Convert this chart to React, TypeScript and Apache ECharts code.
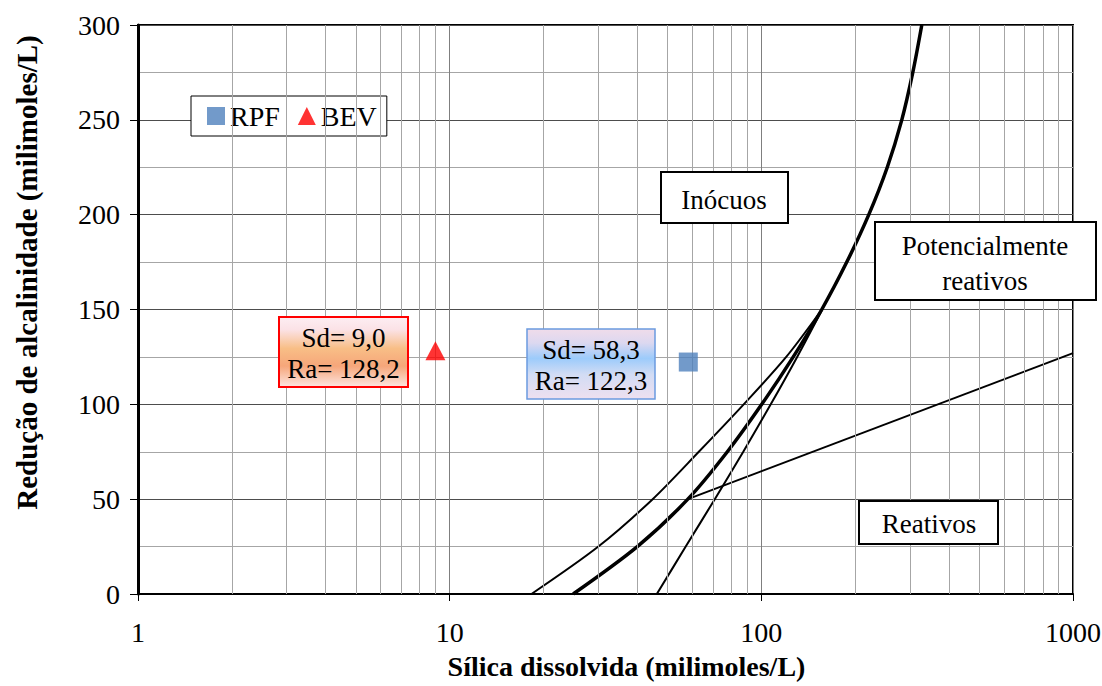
import React, { useEffect, useRef } from "react";
import * as echarts from "echarts";

const FONT = "Liberation Serif";

// Curves (x = sílica dissolvida, y = redução de alcalinidade)
const thickX = [24.9, 40.0, 58.1, 77.8, 100.3, 126.6, 156.3, 188, 221.2, 253.6, 282.3, 306.2, 327.2];
const thickY = [0, 25, 50, 75, 100, 125, 150, 175, 200, 225, 250, 275, 300];
const leftX = [18.3, 30.0, 44.8, 63.0, 87.8, 120.2, 156.4];
const leftY = [0, 25, 50, 75, 100, 125, 150];
const rightX = [46.2, 57.2, 70.9, 87.5, 107.2, 130.3, 156.8];
const rightY = [0, 25, 50, 75, 100, 125, 150];
const diagX = [58.1, 1000];
const diagY = [50, 127];

// Samples
const rpfPoint = [58.3, 122.3];
const bevPoint = [9.0, 128.2];

// Grid helpers
const minorX = [2, 3, 4, 5, 6, 7, 8, 9, 20, 30, 40, 50, 60, 70, 80, 90, 200, 300, 400, 500, 600, 700, 800, 900];
const xTickLabels = ["1", "10", "100", "1000"];

const zip = (xs: number[], ys: number[]) => xs.map((x, i) => [x, ys[i]]);
const fmt = (v: number) => v.toFixed(1).replace(".", ",");

export default function App() {
  const ref = useRef<HTMLDivElement>(null);
  useEffect(() => {
    if (!ref.current) return;
    const chart = echarts.init(ref.current, undefined, { renderer: "svg" });
    const boxText = { fill: "#000", fontFamily: FONT, fontSize: 27, align: "center", verticalAlign: "middle" };
    const option: any = {
      animation: false,
      backgroundColor: "#fff",
      textStyle: { fontFamily: FONT },
      grid: {
        left: 138,
        right: 29,
        top: 25,
        bottom: 92,
        show: true,
        borderColor: "#000",
        borderWidth: 2,
        containLabel: false,
        outerBoundsMode: "none",
      },
      xAxis: {
        type: "log",
        logBase: 10,
        min: 1,
        max: 1000,
        splitNumber: 3,
        name: "Sílica dissolvida (milimoles/L)",
        nameLocation: "middle",
        nameGap: 58,
        nameTextStyle: { fontFamily: FONT, fontSize: 28, fontWeight: "bold", color: "#000", padding: [0, 0, 0, 42] },
        axisLine: { show: true, onZero: false, lineStyle: { color: "#000", width: 2 } },
        axisTick: { show: true, length: 7, lineStyle: { color: "#000", width: 1 } },
        axisLabel: {
          fontFamily: FONT,
          fontSize: 28,
          color: "#000",
          margin: 24,
          formatter: (v: number) => xTickLabels[Math.round(Math.log10(v))] ?? String(v),
        },
        splitLine: { show: true, lineStyle: { color: "#7f7f7f", width: 1 } },
      },
      yAxis: {
        type: "value",
        min: 0,
        max: 300,
        interval: 50,
        name: "Redução de alcalinidade (milimoles/L)",
        nameLocation: "middle",
        nameGap: 97,
        nameTextStyle: { fontFamily: FONT, fontSize: 29, fontWeight: "bold", color: "#000", padding: [0, 0, 0, 74] },
        axisLine: { show: true, lineStyle: { color: "#000", width: 3 } },
        axisTick: { show: true, length: 8, lineStyle: { color: "#000", width: 1 } },
        axisLabel: { fontFamily: FONT, fontSize: 28, color: "#000", margin: 18 },
        splitLine: { show: true, lineStyle: { color: "#4d4d4d", width: 1.2 } },
        minorTick: { show: false, splitNumber: 2 },
        minorSplitLine: { show: true, lineStyle: { color: "#a6a6a6", width: 1 } },
      },
      legend: {
        data: ["RPF", "BEV"],
        left: 191,
        top: 96,
        orient: "horizontal",
        padding: [6, 10, 6, 16],
        itemGap: 18,
        itemWidth: 18,
        itemHeight: 18,
        backgroundColor: "#fff",
        borderColor: "#000",
        borderWidth: 1,
        textStyle: { fontFamily: FONT, fontSize: 28, color: "#000" },
      },
      series: [
        {
          type: "line",
          name: "grid-minor",
          data: [[1, 0]],
          showSymbol: false,
          silent: true,
          z: 1,
          lineStyle: { opacity: 0 },
          markLine: {
            silent: true,
            symbol: ["none", "none"],
            label: { show: false },
            lineStyle: { color: "#a6a6a6", width: 1, type: "solid" },
            data: minorX.map((v) => ({ xAxis: v })),
          },
        },
        { type: "line", name: "limite", data: zip(thickX, thickY), smooth: 0.3, showSymbol: false, lineStyle: { color: "#000", width: 3.5 }, z: 3 },
        { type: "line", name: "curva-esq", data: zip(leftX, leftY), smooth: 0.3, showSymbol: false, lineStyle: { color: "#000", width: 2 }, z: 3 },
        { type: "line", name: "curva-dir", data: zip(rightX, rightY), smooth: 0.3, showSymbol: false, lineStyle: { color: "#000", width: 2 }, z: 3 },
        { type: "line", name: "reta", data: zip(diagX, diagY), showSymbol: false, lineStyle: { color: "#000", width: 2 }, z: 3 },
        { type: "scatter", name: "RPF", data: [rpfPoint], symbol: "rect", symbolSize: 19, itemStyle: { color: "#4f81bd" }, z: 5 },
        { type: "scatter", name: "BEV", data: [bevPoint], symbol: "triangle", symbolSize: [20, 19], itemStyle: { color: "#ff0000" }, z: 5 },
      ],
      graphic: [
        { type: "rect", z: 100, shape: { x: 661, y: 172, width: 127, height: 51 }, style: { fill: "#fff", stroke: "#000", lineWidth: 2 } },
        { type: "text", z: 101, x: 724, y: 200, style: { ...boxText, text: "Inócuos" } },
        { type: "rect", z: 100, shape: { x: 875, y: 222, width: 221, height: 78 }, style: { fill: "#fff", stroke: "#000", lineWidth: 2 } },
        { type: "text", z: 101, x: 985, y: 263, style: { ...boxText, text: "Potencialmente\nreativos", lineHeight: 35 } },
        { type: "rect", z: 100, shape: { x: 859, y: 501, width: 139, height: 43 }, style: { fill: "#fff", stroke: "#000", lineWidth: 2 } },
        { type: "text", z: 101, x: 929, y: 524, style: { ...boxText, text: "Reativos" } },
        {
          type: "rect",
          z: 100,
          shape: { x: 279, y: 317, width: 129, height: 70 },
          style: {
            fill: new echarts.graphic.LinearGradient(0, 0, 0, 1, [
              { offset: 0, color: "#fdeef3" },
              { offset: 0.18, color: "#fbe2e6" },
              { offset: 0.45, color: "#f8be86" },
              { offset: 0.7, color: "#f6a67a" },
              { offset: 1, color: "#fde6e2" },
            ]),
            stroke: "#ff0000",
            lineWidth: 2,
          },
        },
        { type: "text", z: 101, x: 343.5, y: 353, style: { ...boxText, text: `Sd= ${fmt(bevPoint[0])}\nRa= ${fmt(bevPoint[1])}`, lineHeight: 31 } },
        {
          type: "rect",
          z: 100,
          shape: { x: 527, y: 329, width: 128, height: 70 },
          style: {
            fill: new echarts.graphic.LinearGradient(0, 0, 0, 1, [
              { offset: 0, color: "#f0dcea" },
              { offset: 0.2, color: "#dcd8f0" },
              { offset: 0.42, color: "#9ccbfb" },
              { offset: 0.65, color: "#d2dcf4" },
              { offset: 1, color: "#eee0f0" },
            ]),
            stroke: "#6b9be0",
            lineWidth: 1.5,
          },
        },
        { type: "text", z: 101, x: 591, y: 365, style: { ...boxText, text: `Sd= ${fmt(rpfPoint[0])}\nRa= ${fmt(rpfPoint[1])}`, lineHeight: 31 } },
      ],
    };
    chart.setOption(option);
    return () => chart.dispose();
  }, []);
  return <div ref={ref} style={{ width: 1102, height: 686, position: "absolute", left: 0, top: 0 }} />;
}
